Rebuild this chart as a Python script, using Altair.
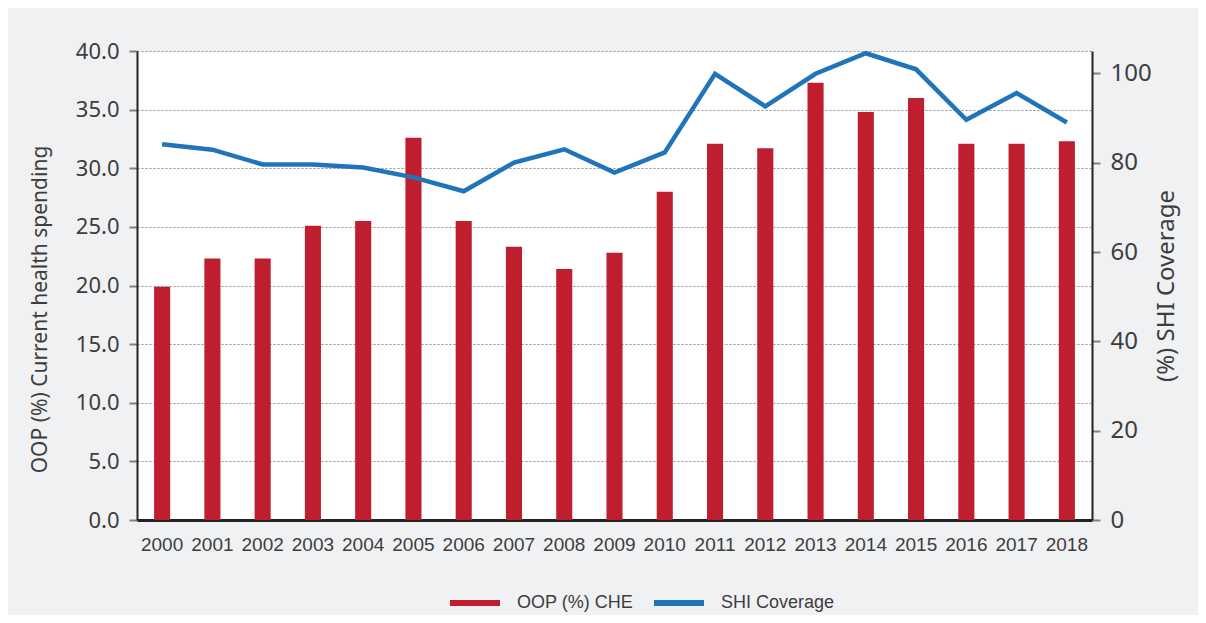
import altair as alt
import pandas as pd

years = [str(y) for y in range(2000, 2019)]
oop = [19.9, 22.3, 22.3, 25.1, 25.5, 32.6, 25.5, 23.3, 21.4, 22.8, 28.0,
       32.1, 31.7, 37.3, 34.8, 36.0, 32.1, 32.1, 32.3]
shi = [84.1, 82.9, 79.6, 79.6, 78.9, 76.7, 73.6, 80.0, 83.0, 77.8, 82.3,
       99.9, 92.6, 99.9, 104.5, 100.9, 89.6, 95.6, 89.0]
series_names = ["OOP (%) CHE", "SHI Coverage"]
series_colors = ["#be1e2d", "#1f74ba"]

bars_df = pd.DataFrame({"year": years, "value": oop, "series": series_names[0]})
line_df = pd.DataFrame({"year": years, "value": shi, "series": series_names[1]})

TEXT = "#3d3d3d"
NARROW = "Liberation Sans"
REG = "Noto Sans"

x_enc = alt.X(
    "year:O",
    scale=alt.Scale(paddingInner=0.68, paddingOuter=0.34),
    axis=alt.Axis(title=None, labelAngle=0, ticks=False, labelFont=NARROW,
                  labelFontSize=19, labelColor=TEXT, labelPadding=15,
                  domainColor="#222222", domainWidth=3, grid=False),
)

color_enc = alt.Color(
    "series:N",
    scale=alt.Scale(domain=series_names, range=series_colors),
    legend=alt.Legend(
        title=None, orient="none", legendX=310, legendY=524, direction="horizontal",
        symbolType="stroke", symbolSize=2500, symbolStrokeWidth=6,
        labelFont=NARROW, labelFontSize=18, labelColor=TEXT, labelOffset=14,
        columnPadding=8,
    ),
)

bars = alt.Chart(bars_df).mark_bar().encode(
    x=x_enc,
    y=alt.Y("value:Q", scale=alt.Scale(domain=[0, 40], nice=False),
            axis=alt.Axis(title="OOP (%) Current health spending", values=[0, 5, 10, 15, 20, 25, 30, 35, 40],
                          format=".1f", labelFont=REG, labelFontSize=22, labelColor=TEXT,
                          labelPadding=10, tickSize=8, tickWidth=2, tickColor="#808080",
                          domainColor="#222222", domainWidth=2,
                          grid=True, gridDash=[2, 2], gridColor="#8c8c8c", gridWidth=1,
                          titleFont=REG, titleFontSize=21, titleFontWeight="normal",
                          titleColor=TEXT, titlePadding=25, titleY=258)),
    color=color_enc,
)

line = alt.Chart(line_df).mark_line(strokeWidth=4.5).encode(
    x=x_enc,
    y=alt.Y("value:Q", scale=alt.Scale(domain=[0, 105], nice=False),
            axis=alt.Axis(title="(%) SHI Coverage", orient="right", values=[0, 20, 40, 60, 80, 100],
                          labelFont=REG, labelFontSize=24, labelColor=TEXT,
                          labelPadding=10, tickSize=8, tickWidth=2, tickColor="#808080",
                          domainColor="#222222", domainWidth=2, grid=False,
                          titleFont=REG, titleFontSize=24, titleFontWeight="normal",
                          titleColor=TEXT, titlePadding=27, titleAngle=270)),
    color=color_enc,
)

chart = alt.layer(bars, line).resolve_scale(y="independent").properties(
    width=955, height=469,
    background="#f0f1f3",
    autosize=alt.AutoSizeParams(type="none"),
    padding={"left": 129, "top": 43, "right": 106, "bottom": 95},
).configure_view(fill="white", stroke=None)

chart.save("out.html", embed_options={"renderer": "svg", "actions": False})
